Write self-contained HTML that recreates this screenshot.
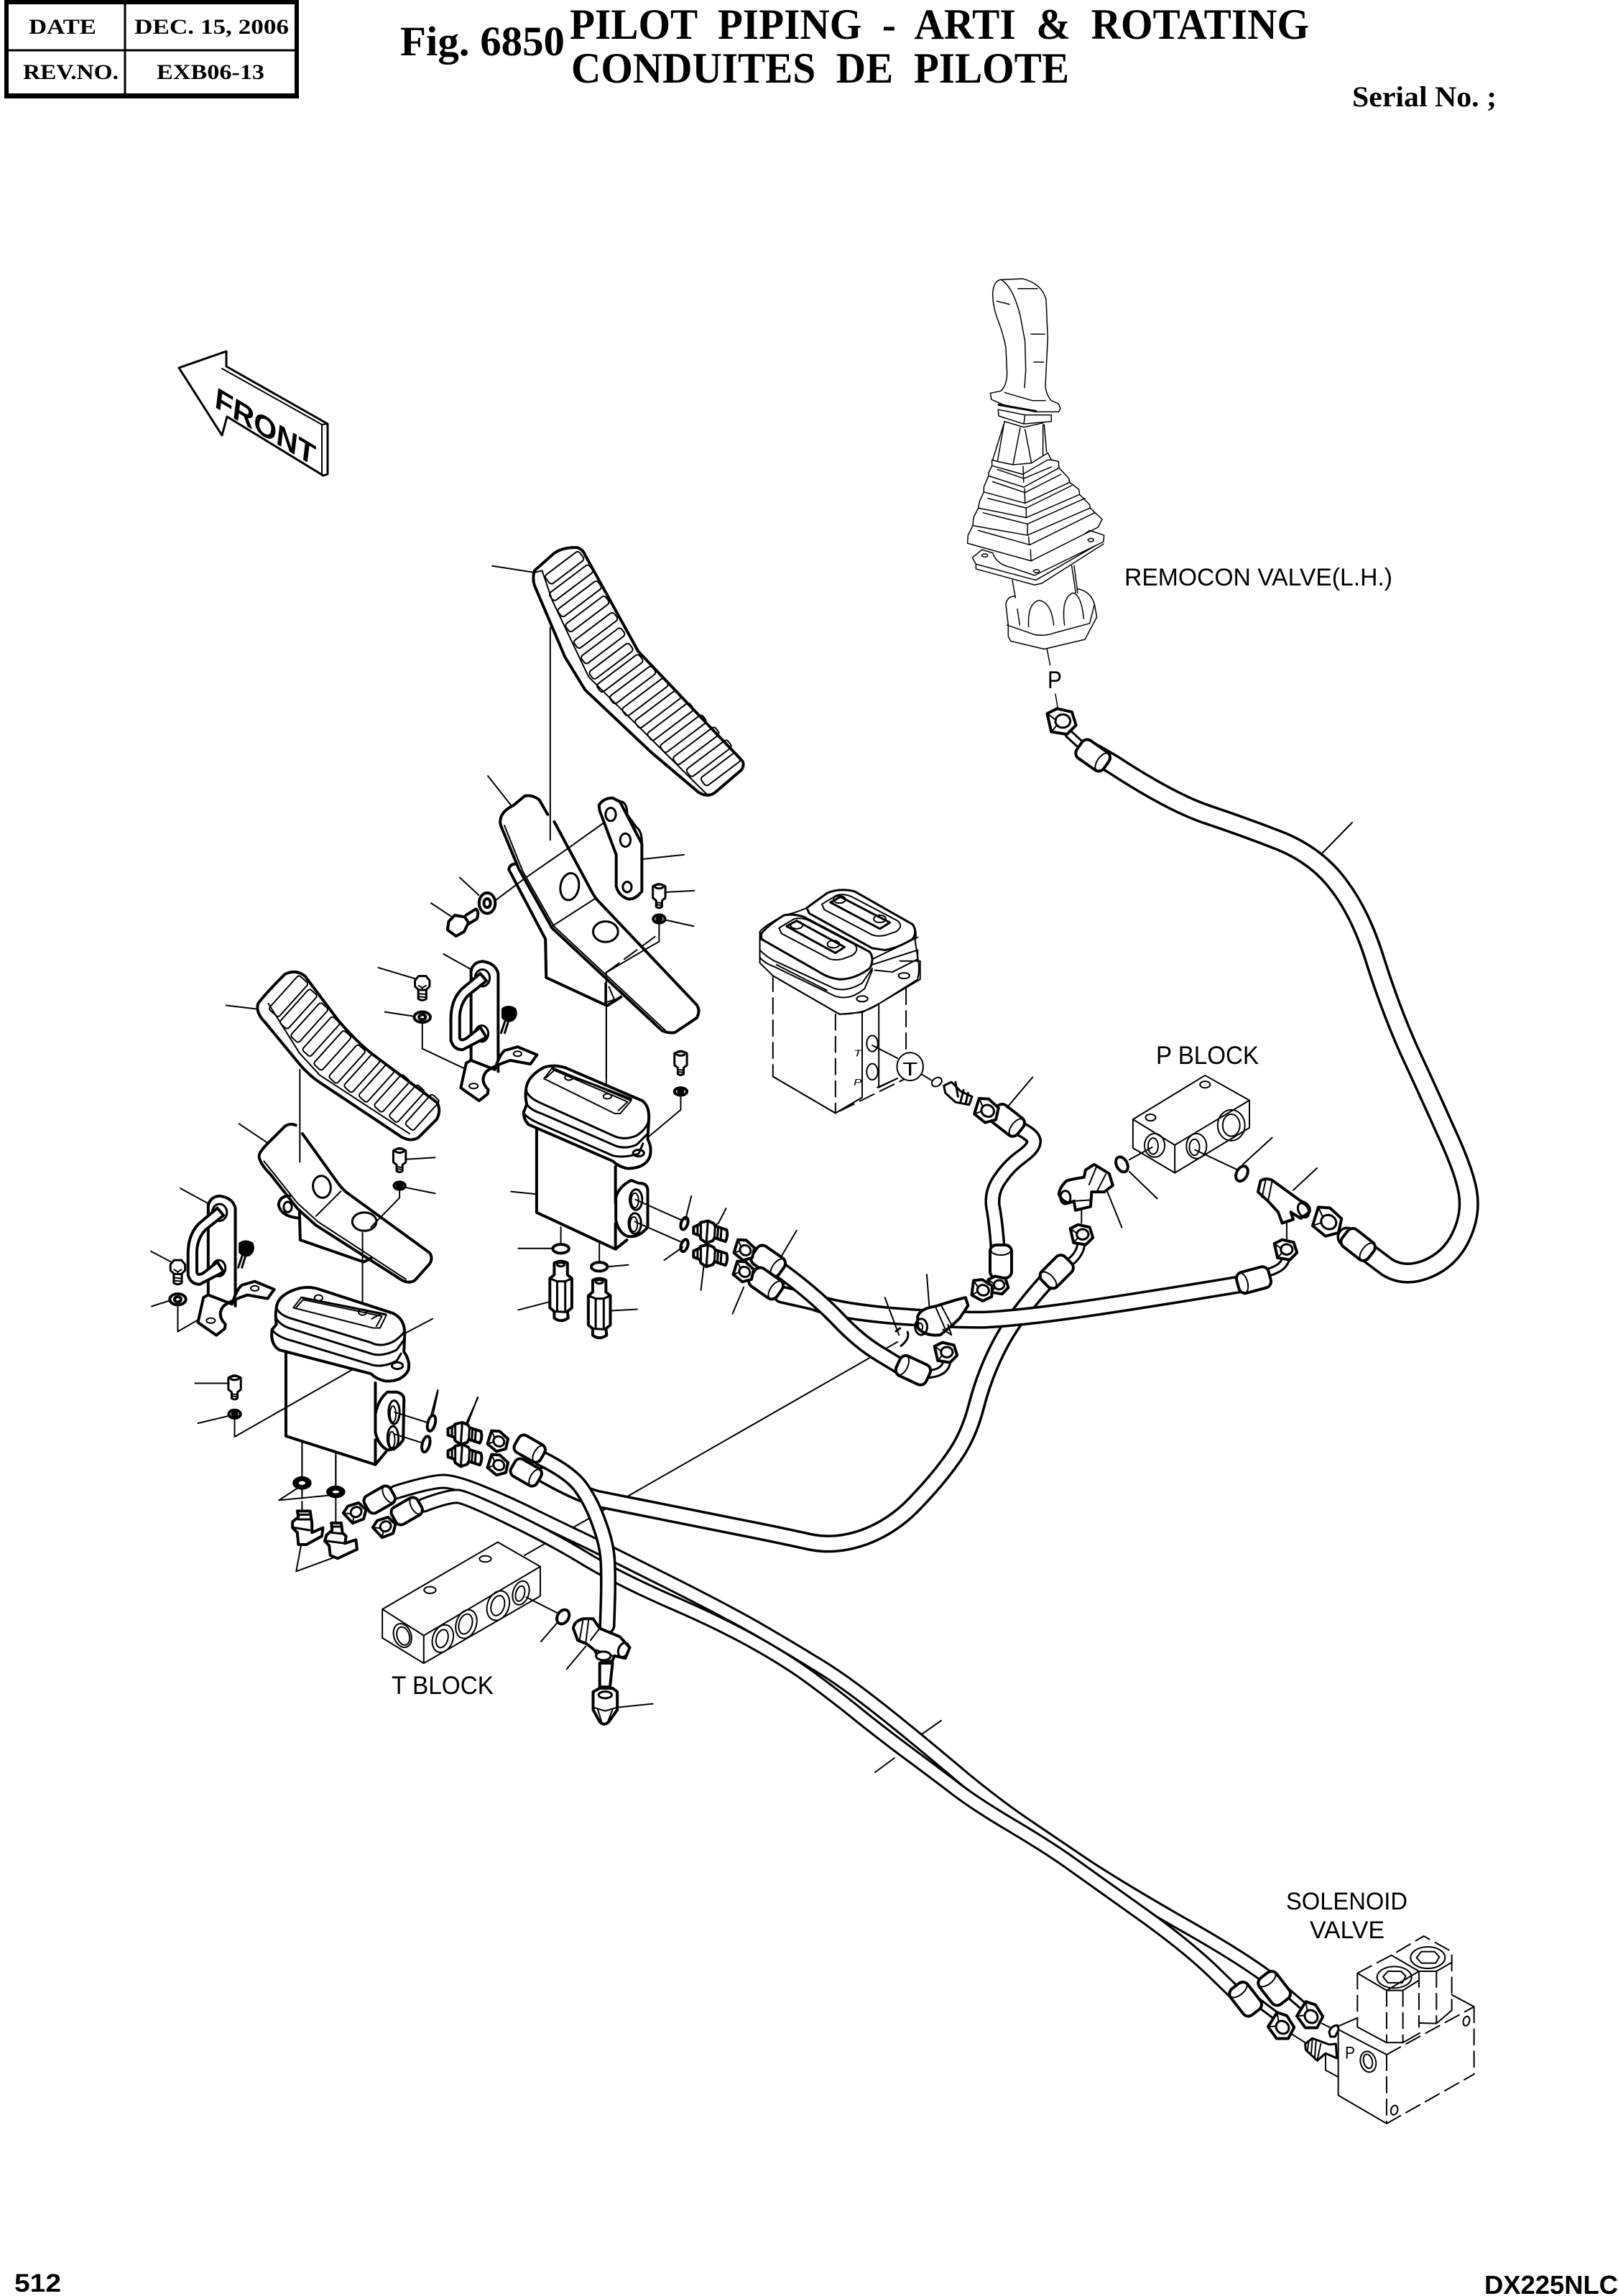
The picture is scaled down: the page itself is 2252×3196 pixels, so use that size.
<!DOCTYPE html>
<html><head><meta charset="utf-8"><style>
html,body{margin:0;padding:0;background:#fff}
svg{display:block}
svg *{vector-effect:non-scaling-stroke}
path,line,ellipse,rect,polygon,polyline,circle{fill:none;stroke:#000;stroke-width:2;stroke-linejoin:round;stroke-linecap:round}
.k{stroke-width:4}
.m{stroke-width:3}
.w{fill:#fff}
.b{fill:#000}
.d{stroke-dasharray:22 9}
.j path,.j ellipse{stroke-width:1.5}
text{fill:#000;stroke:none}
.s{font-family:"Liberation Serif",serif;font-weight:bold}
.a{font-family:"Liberation Sans",sans-serif}
</style></head><body>
<svg width="2252" height="3196" viewBox="0 0 2252 3196" xmlns="http://www.w3.org/2000/svg">
<rect x="0" y="0" width="2252" height="3196" style="fill:#fff;stroke:none"/>
<defs>
<g id="nut"><polygon class="k w" points="-17,-11 -5,-17 13,-13 18,3 7,14 -12,11"/><ellipse class="m" cx="2" cy="-2" rx="9" ry="8"/><line x1="-17" y1="-11" x2="-6" y2="-3"/><line x1="-12" y1="11" x2="-6" y2="4"/></g>
<g id="col"><rect class="k w" x="-24" y="-15" width="46" height="30" rx="9"/><ellipse cx="15" cy="0" rx="7" ry="14"/></g>
<g id="sb"><path class="m w" d="M-17,-24 Q0,-34 17,-24 L17,8 L8,15 L8,32 Q0,38 -8,32 L-8,15 L-17,8Z"/><ellipse class="m" cx="0" cy="-24" rx="12" ry="6"/><path d="M-8,20 L8,22 M-8,26 L8,28"/></g>
<g id="hb"><path class="m w" d="M-20,-18 L-10,-30 L10,-30 L20,-18 L20,-2 L10,8 L-10,8 L-20,-2Z M-11,8 L-11,32 Q0,40 11,32 L11,8"/><path d="M-10,-4 L0,2 L10,-4 M0,2 L0,8 M-11,18 L11,20 M-11,26 L11,28"/></g>
<g id="wa"><ellipse class="k w" cx="0" cy="0" rx="22" ry="15"/><ellipse class="k" cx="0" cy="0" rx="9" ry="7"/></g>
<g id="ro"><ellipse class="k w" cx="0" cy="0" rx="9" ry="17"/></g>
<g id="fit"><path class="k w" d="M-45,-15 L-30,-22 L-25,-28 L-5,-32 L10,-25 L14,-18 L45,-8 Q50,8 42,24 L12,14 L8,22 L-10,28 L-25,18 L-28,8 L-45,2 Z"/><path class="m" d="M-34,-18 L-34,6 M-25,-28 L-25,18 M-6,-30 L-10,28 M22,-14 L20,18 M31,-12 L29,21 M14,-18 L12,14"/></g>
<g id="hook">
<path class="k" d="M893,345 L893,100 Q900,76 925,75 Q960,80 967,108 L967,375"/>
<ellipse class="m" cx="924" cy="120" rx="20" ry="23"/>
<ellipse class="m" cx="922" cy="272" rx="18" ry="22"/>
<path class="k w" d="M918,108 L868,150 Q838,180 838,232 L838,290 Q845,316 870,316 L935,282 L918,255 L880,285 Q862,295 862,280 L862,225 Q864,190 885,168 L935,128Z"/>
<path class="k b" d="M980,205 Q995,195 1012,205 Q1020,222 1005,235 Q990,240 980,228Z"/>
<path class="m" d="M985,240 L975,270 M995,238 L985,270"/>
<path class="k w" d="M893,345 L880,352 L865,420 L915,455 L938,437 L940,425 Q915,400 935,375 Q955,360 1000,345 L1055,355 L1073,330 L1020,308 L985,318 Q970,330 958,370Z"/>
<ellipse cx="1020" cy="327" rx="11" ry="7"/>
<ellipse cx="900" cy="415" rx="12" ry="7"/>
</g>
<g id="cart"><path class="k w" d="M-18,-72 Q0,-82 18,-72 L18,-40 L30,-30 L30,50 L18,60 L20,78 Q0,92 -18,78 L-18,60 L-30,50 L-30,-30 L-18,-40Z"/><path class="m" d="M-30,-30 L-10,-22 L12,-22 L30,-30 M-10,-22 L-10,58 M12,-22 L12,58 M-18,60 L18,62"/><ellipse class="m" cx="0" cy="-68" rx="10" ry="5"/></g>
</defs>

<!-- Header -->
<rect x="9" y="3" width="404" height="131" style="stroke-width:6;fill:#fff"/>
<rect x="6" y="0" width="410" height="6" class="b" style="stroke:none"/>
<rect x="6" y="130" width="410" height="7" class="b" style="stroke:none"/>
<line x1="8" y1="70" x2="412" y2="70" class="m"/>
<line x1="174" y1="5" x2="174" y2="132" class="m"/>
<text class="s" x="40" y="47" font-size="30" textLength="94" lengthAdjust="spacingAndGlyphs">DATE</text>
<text class="s" x="187" y="47" font-size="30" textLength="215" lengthAdjust="spacingAndGlyphs">DEC. 15, 2006</text>
<text class="s" x="32" y="110" font-size="30" textLength="133" lengthAdjust="spacingAndGlyphs">REV.NO.</text>
<text class="s" x="218" y="110" font-size="30" textLength="150" lengthAdjust="spacingAndGlyphs">EXB06-13</text>
<text class="s" x="557" y="77" font-size="58" textLength="229" lengthAdjust="spacingAndGlyphs">Fig. 6850</text>
<text class="s" x="793" y="54" font-size="60" textLength="1029" lengthAdjust="spacingAndGlyphs" xml:space="preserve">PILOT  PIPING  -  ARTI  &amp;  ROTATING</text>
<text class="s" x="795" y="115" font-size="60" textLength="693" lengthAdjust="spacingAndGlyphs" xml:space="preserve">CONDUITES  DE  PILOTE</text>
<text class="s" x="1882" y="148" font-size="40" textLength="201" lengthAdjust="spacingAndGlyphs">Serial No. ;</text>

<!-- Footer -->
<text class="a" x="20" y="3190" font-size="35" font-weight="bold" textLength="65" lengthAdjust="spacingAndGlyphs">512</text>
<text class="a" x="2066" y="3193" font-size="36" font-weight="bold" textLength="186" lengthAdjust="spacingAndGlyphs">DX225NLC</text>

<!-- FRONT arrow -->
<path class="m" d="M249,512 L315,489 L315,510 L456,590 L456,660 L450,662 L316,580 L309,606Z"/>
<path d="M309,513 L448,591 L448,662 M448,591 L456,590"/>
<text class="a" font-size="40" font-weight="bold" transform="matrix(.87,.52,-.12,1,298,566)" textLength="160" lengthAdjust="spacingAndGlyphs">FRONT</text>

<!-- Labels -->
<text class="a" x="1565" y="815" font-size="34" textLength="373" lengthAdjust="spacingAndGlyphs">REMOCON VALVE(L.H.)</text>
<text class="a" x="1458" y="958" font-size="34" textLength="20" lengthAdjust="spacingAndGlyphs">P</text>
<text class="a" x="1609" y="1481" font-size="35" textLength="143" lengthAdjust="spacingAndGlyphs">P BLOCK</text>
<text class="a" x="545" y="2358" font-size="35" textLength="142" lengthAdjust="spacingAndGlyphs">T BLOCK</text>
<text class="a" x="1790" y="2658" font-size="34" textLength="169" lengthAdjust="spacingAndGlyphs">SOLENOID</text>
<text class="a" x="1823" y="2698" font-size="34" textLength="104" lengthAdjust="spacingAndGlyphs">VALVE</text>

<!-- Joystick (crop coordinates sx=1/3, sy=1/2.24) -->
<g class="j" transform="translate(1250,350) scale(.3333,.4464)">
<path d="M395,130 Q400,90 430,88 L520,85 Q600,100 618,150 L625,270 L615,420 Q620,450 640,465 L670,475 L678,490 L670,500 L570,500 L440,478 L390,462 L385,442 L430,435 Q455,415 455,380 L450,300 Q440,260 420,220 Q395,175 395,130Z"/>
<path d="M430,88 Q480,110 510,200 L530,280 L533,370 L528,425 M500,116 L582,116 M412,155 L465,165 M555,258 L612,258 M568,345 L608,345 M445,440 L560,465 L615,465"/>
<path style="stroke-width:3" d="M420,478 L575,498"/>
<path d="M418,493 L530,510 L640,510 L640,530 L525,538 L420,513Z M530,510 L525,538"/>
<path d="M445,530 L395,650 M443,535 L415,655 M443,530 L525,548 L605,535 M510,550 L480,665 M530,555 L557,660 M605,540 L605,635 M610,540 L620,625"/>
<path d="M392,650 L392,668 L520,695 L625,650 L640,650 L625,628 L557,660 L480,665 L415,655Z"/>
<path d="M392,668 L378,690 L378,700 L525,735 L672,675 L670,655 L640,650 M415,680 L525,708 L640,672"/>
<path d="M378,700 L358,735 L358,750 L530,785 L716,720 L713,708 L672,675 M395,718 L530,752 L680,695"/>
<path d="M358,750 L340,780 L335,800 L535,830 L758,758 L755,742 L716,720 M375,770 L535,800 L725,730"/>
<path d="M335,800 L315,830 L312,855 L540,885 L802,800 L800,790 L758,758 M355,815 L540,850 L780,770"/>
<path d="M312,855 L292,885 L290,910 L555,965 L835,860 L852,835 L802,800 M335,870 L550,915 L820,815"/>
<path d="M522,670 L525,735 M528,740 L530,785 M535,800 L535,830 M540,850 L540,885 M545,890 L548,915 M553,930 L555,965" class="d"/>
<path d="M310,955 L350,930 L395,940 M395,940 Q410,975 470,985 L570,1010 L858,905 L860,885 L800,870 L780,880 M310,955 L325,975 L325,990 L570,1040 L600,1035 L858,912 M325,975 L575,1025 L830,915"/>
<ellipse cx="362" cy="948" rx="12" ry="5"/><ellipse cx="805" cy="900" rx="12" ry="5"/><ellipse cx="578" cy="997" rx="12" ry="5"/>
<path d="M477,1025 L490,1080 M725,980 L742,1065 M735,980 L750,1065"/>
<path d="M490,1075 Q455,1075 450,1100 L460,1165 L460,1200 L470,1215 L610,1240 L780,1210 L830,1140 L820,1100 Q805,1060 750,1052"/>
<path d="M545,1170 Q540,1095 590,1088 Q640,1095 650,1165 M695,1165 Q680,1080 730,1065 Q765,1070 775,1145 M455,1165 L570,1195 Q620,1200 650,1190 L800,1160 L820,1100 M498,1115 L508,1165"/>
<path d="M622,1240 L635,1290 M657,1380 L668,1430"/>
</g>

<!-- Solid leader lines in real coords -->
<g>
<path d="M1838,1190 L1882,1145"/>
<path d="M1283,2414 L1310,2395 M1245,2447 L1218,2467"/>
<path d="M730,2165 L1249,1868" />
</g>

<!-- Hoses: black under white -->
<g style="fill:none">
<!-- A: remocon -->
<path style="fill:none;stroke:#000;stroke-width:29" d="M1525,1050 L1549,1064 Q1630,1117 1681,1134 Q1732,1151 1783,1171 Q1834,1192 1864,1233 Q1895,1274 1915,1340 Q1936,1406 1961,1462 Q1987,1518 2012,1574 Q2038,1630 2043,1660 Q2048,1691 2033,1722 Q2018,1753 1987,1766 Q1956,1779 1931,1764 L1875,1722"/>
<path style="fill:none;stroke:#fff;stroke-width:22" d="M1525,1050 L1549,1064 Q1630,1117 1681,1134 Q1732,1151 1783,1171 Q1834,1192 1864,1233 Q1895,1274 1915,1340 Q1936,1406 1961,1462 Q1987,1518 2012,1574 Q2038,1630 2043,1660 Q2048,1691 2033,1722 Q2018,1753 1987,1766 Q1956,1779 1931,1764 L1875,1722"/>
<!-- C -->
<path style="fill:none;stroke:#000;stroke-width:25" d="M758,2053 Q810,2082 835,2087 Q860,2092 930,2106 Q1000,2120 1045,2129 Q1090,2138 1126,2146 Q1162,2154 1202,2140 Q1243,2125 1274,2092 Q1305,2060 1326,2030 Q1348,2000 1359,1957 Q1370,1914 1390,1875 Q1410,1835 1455,1785"/>
<path style="fill:none;stroke:#fff;stroke-width:18" d="M758,2053 Q810,2082 835,2087 Q860,2092 930,2106 Q1000,2120 1045,2129 Q1090,2138 1126,2146 Q1162,2154 1202,2140 Q1243,2125 1274,2092 Q1305,2060 1326,2030 Q1348,2000 1359,1957 Q1370,1914 1390,1875 Q1410,1835 1455,1785"/>
<!-- B -->
<path style="fill:none;stroke:#000;stroke-width:25" d="M1730,1787 Q1561,1815 1487,1825 Q1414,1835 1372,1837 Q1330,1838 1248,1832 Q1165,1825 1132,1812 L1088,1802"/>
<path style="fill:none;stroke:#fff;stroke-width:18" d="M1730,1787 Q1561,1815 1487,1825 Q1414,1835 1372,1837 Q1330,1838 1248,1832 Q1165,1825 1132,1812 L1088,1802"/>
<!-- S -->
<path style="fill:none;stroke:#000;stroke-width:24" d="M1088,1769 Q1133,1802 1165,1835 Q1196,1868 1225,1885 L1253,1902"/>
<path style="fill:none;stroke:#fff;stroke-width:17" d="M1088,1769 Q1133,1802 1165,1835 Q1196,1868 1225,1885 L1253,1902"/>
<!-- G -->
<path style="fill:none;stroke:#000;stroke-width:22" d="M1389,1741 Q1386,1700 1382,1680 Q1379,1659 1392,1641 Q1404,1623 1422,1610 Q1439,1598 1439,1589 Q1439,1580 1417,1570"/>
<path style="fill:none;stroke:#fff;stroke-width:15" d="M1389,1741 Q1386,1700 1382,1680 Q1379,1659 1392,1641 Q1404,1623 1422,1610 Q1439,1598 1439,1589 Q1439,1580 1417,1570"/>
<!-- E -->
<path style="fill:none;stroke:#000;stroke-width:21" d="M551,2077 Q600,2062 618,2062 Q636,2063 672,2078 Q707,2092 745,2111 Q784,2130 822,2148 Q860,2167 930,2202 Q1000,2237 1050,2265 Q1100,2294 1129,2312 Q1158,2329 1189,2352 Q1220,2375 1258,2406 Q1296,2437 1341,2475 Q1386,2512 1424,2538 Q1462,2564 1511,2597 Q1560,2629 1640,2675 Q1720,2720 1761,2750"/>
<path style="fill:none;stroke:#fff;stroke-width:15" d="M551,2077 Q600,2062 618,2062 Q636,2063 672,2078 Q707,2092 745,2111 Q784,2130 822,2148 Q860,2167 930,2202 Q1000,2237 1050,2265 Q1100,2294 1129,2312 Q1158,2329 1189,2352 Q1220,2375 1258,2406 Q1296,2437 1341,2475 Q1386,2512 1424,2538 Q1462,2564 1511,2597 Q1560,2629 1640,2675 Q1720,2720 1761,2750"/>
<!-- F -->
<path style="fill:none;stroke:#000;stroke-width:21" d="M590,2095 Q625,2082 638,2083 Q651,2085 711,2114 Q771,2143 815,2170 Q860,2197 930,2228 Q1000,2258 1050,2286 Q1100,2314 1133,2339 Q1167,2364 1200,2391 Q1234,2418 1265,2441 Q1296,2464 1325,2486 Q1354,2509 1408,2541 Q1462,2573 1495,2597 Q1529,2621 1589,2664 Q1649,2707 1685,2741 L1720,2775"/>
<path style="fill:none;stroke:#fff;stroke-width:15" d="M590,2095 Q625,2082 638,2083 Q651,2085 711,2114 Q771,2143 815,2170 Q860,2197 930,2228 Q1000,2258 1050,2286 Q1100,2314 1133,2339 Q1167,2364 1200,2391 Q1234,2418 1265,2441 Q1296,2464 1325,2486 Q1354,2509 1408,2541 Q1462,2573 1495,2597 Q1529,2621 1589,2664 Q1649,2707 1685,2741 L1720,2775"/>
<!-- D -->
<path style="fill:none;stroke:#000;stroke-width:23" d="M753,2030 Q794,2050 809,2071 Q824,2092 834,2121 Q845,2150 846,2175 Q847,2200 846,2232 L845,2263"/>
<path style="fill:none;stroke:#fff;stroke-width:16" d="M753,2030 Q794,2050 809,2071 Q824,2092 834,2121 Q845,2150 846,2175 Q847,2200 846,2232 L845,2263"/>
</g>

<!-- Elbows -->
<path style="fill:none;stroke:#000;stroke-width:13" d="M1488,1022 L1510,1042"/><path style="fill:none;stroke:#fff;stroke-width:7" d="M1488,1022 L1510,1042"/>
<path style="fill:none;stroke:#000;stroke-width:13" d="M1762,1772 Q1790,1765 1790,1748"/><path style="fill:none;stroke:#fff;stroke-width:7" d="M1762,1772 Q1790,1765 1790,1748"/>
<path style="fill:none;stroke:#000;stroke-width:13" d="M1488,1758 Q1505,1745 1505,1728"/><path style="fill:none;stroke:#fff;stroke-width:7" d="M1488,1758 Q1505,1745 1505,1728"/>
<path style="fill:none;stroke:#000;stroke-width:13" d="M1288,1913 Q1318,1912 1318,1892"/><path style="fill:none;stroke:#fff;stroke-width:7" d="M1288,1913 Q1318,1912 1318,1892"/>
<path style="fill:none;stroke:#000;stroke-width:13" d="M1748,2785 L1788,2815 M1788,2770 L1825,2802"/><path style="fill:none;stroke:#fff;stroke-width:7" d="M1748,2785 L1788,2815 M1788,2770 L1825,2802"/>

<!-- Collars -->
<use href="#col" transform="translate(1522,1052) rotate(35)"/>
<use href="#nut" transform="translate(1477,1006) scale(1.15)"/>
<use href="#col" transform="translate(1891,1733) rotate(38)"/>
<use href="#nut" transform="translate(1846,1702) rotate(30) scale(1.2)"/>
<use href="#col" transform="translate(1403,1560) rotate(38)"/>
<use href="#nut" transform="translate(1372,1547) rotate(30) scale(1)"/>
<use href="#col" transform="translate(1393,1755) rotate(-90)"/>
<use href="#nut" transform="translate(1389,1790) scale(.8)"/>
<use href="#nut" transform="translate(1366,1797) rotate(20) scale(.9)"/>
<use href="#col" transform="translate(1744,1782) rotate(165)"/>
<use href="#nut" transform="translate(1789,1741) scale(.9)"/>
<use href="#col" transform="translate(1470,1771) rotate(135)"/>
<use href="#nut" transform="translate(1505,1720) scale(.9)"/>
<use href="#col" transform="translate(1270,1907) rotate(205)"/>
<use href="#nut" transform="translate(1316,1884) scale(.9)"/>
<use href="#col" transform="translate(1070,1756) rotate(35)"/>
<use href="#nut" transform="translate(1035,1741) rotate(30) scale(.85)"/>
<use href="#col" transform="translate(1067,1787) rotate(35)"/>
<use href="#nut" transform="translate(1034,1771) rotate(30) scale(.85)"/>
<use href="#col" transform="translate(738,2017) rotate(30) scale(.9)"/>
<use href="#nut" transform="translate(692,2007) rotate(30) scale(.85)"/>
<use href="#col" transform="translate(733,2050) rotate(30) scale(.9)"/>
<use href="#nut" transform="translate(692,2040) rotate(30) scale(.85)"/>
<use href="#col" transform="translate(529,2087) rotate(-30) scale(.9)"/>
<use href="#nut" transform="translate(495,2107) rotate(-30) scale(.85)"/>
<use href="#col" transform="translate(567,2103) rotate(-30) scale(.9)"/>
<use href="#nut" transform="translate(536,2127) rotate(-30) scale(.85)"/>
<use href="#col" transform="translate(1773,2767) rotate(232)"/>
<use href="#col" transform="translate(1733,2782) rotate(232)"/>
<use href="#nut" transform="translate(1822,2807) rotate(45) scale(1.05)"/>
<use href="#nut" transform="translate(1782,2822) rotate(45) scale(1.05)"/>

<!-- Group A: upper pedal (scale .5102) -->
<g transform="translate(600,700) scale(.5102)">
<path d="M167,172 L282,190 M155,745 L218,825 M325,340 L325,920 M578,972 L690,960 M642,1062 L718,1058 M640,1138 L716,1155 M78,1022 L130,1070 M0,1092 L65,1135"/>
<path d="M475,870 L370,945 M370,945 L255,1025 M255,1025 L175,1085"/>
<path d="M622,1150 L622,1197 L590,1215 M590,1215 L480,1280 M478,1280 L478,1568"/>
<path class="k" d="M282,185 L335,138 Q360,120 400,122 Q415,128 420,142 L565,405 L850,705 Q855,720 845,730 L775,790 Q755,805 730,790 L600,680 L420,510 L365,420 L282,225 Q276,205 282,185Z"/>
<path d="M303,185 L330,265 L430,475 L755,798 M282,190 L303,185"/>
<g transform="translate(364,177) rotate(-37)"><rect x="-58" y="-15" width="116" height="30" rx="8"/></g>
<g transform="translate(382,218) rotate(-37)"><rect x="-68" y="-13" width="136" height="26" rx="8"/></g>
<g transform="translate(405,262) rotate(-37)"><rect x="-68" y="-13" width="136" height="26" rx="8"/></g>
<g transform="translate(426,303) rotate(-37)"><rect x="-68" y="-13" width="136" height="26" rx="8"/></g>
<g transform="translate(449,348) rotate(-37)"><rect x="-68" y="-13" width="136" height="26" rx="8"/></g>
<g transform="translate(469,390) rotate(-37)"><rect x="-68" y="-13" width="136" height="26" rx="8"/></g>
<g transform="translate(491,432) rotate(-37)"><rect x="-68" y="-13" width="136" height="26" rx="8"/></g>
<g transform="translate(515,465) rotate(-37)"><rect x="-72" y="-13" width="144" height="26" rx="8"/></g>
<g transform="translate(550,497) rotate(-37)"><rect x="-72" y="-13" width="144" height="26" rx="8"/></g>
<g transform="translate(584,530) rotate(-37)"><rect x="-72" y="-13" width="144" height="26" rx="8"/></g>
<g transform="translate(619,563) rotate(-37)"><rect x="-72" y="-13" width="144" height="26" rx="8"/></g>
<g transform="translate(653,597) rotate(-37)"><rect x="-72" y="-13" width="144" height="26" rx="8"/></g>
<g transform="translate(688,630) rotate(-37)"><rect x="-72" y="-13" width="144" height="26" rx="8"/></g>
<g transform="translate(723,663) rotate(-37)"><rect x="-72" y="-13" width="144" height="26" rx="8"/></g>
<g transform="translate(758,697) rotate(-37)"><rect x="-70" y="-13" width="140" height="26" rx="8"/></g>
<g transform="translate(790,727) rotate(-37)"><rect x="-60" y="-14" width="120" height="28" rx="8"/></g>
<path class="k" d="M190,860 Q195,840 225,825 L255,800 Q275,795 295,810 L318,850 M336,870 L430,1045 Q445,1075 455,1085 L725,1370 Q735,1385 725,1405 L665,1445 Q650,1448 630,1440 L330,1160 L240,1000 L190,880 Q187,870 190,860"/>
<path d="M200,880 L250,1005 L335,1155 L640,1440 M330,1155 L447,1080"/>
<ellipse class="m" cx="378" cy="1047" rx="25" ry="37" transform="rotate(10 378 1047)"/>
<ellipse class="m" cx="476" cy="1170" rx="34" ry="28"/>
<path class="k" d="M232,985 Q215,985 212,1000 L312,1190 L314,1295 L480,1372 L518,1348"/>
<path d="M475,1310 L475,1365 M485,1320 L500,1355 L480,1362"/>
<path class="k w" d="M458,825 Q470,805 495,805 L515,815 L575,930 L575,1060 Q555,1085 535,1080 Q510,1070 505,1045 L505,960 L460,840Z"/>
<path class="m" d="M520,815 Q535,820 535,850 L560,885 Q575,895 575,925"/>
<ellipse class="m" cx="490" cy="850" rx="14" ry="18"/><ellipse class="m" cx="530" cy="920" rx="14" ry="18"/><ellipse class="m" cx="535" cy="1048" rx="12" ry="14"/>
<use href="#sb" transform="translate(622,1070)"/>
<ellipse class="k" cx="622" cy="1135" rx="16" ry="11"/><ellipse class="k" cx="622" cy="1135" rx="6" ry="4"/>
<ellipse class="k w" cx="153" cy="1092" rx="22" ry="28"/><ellipse class="k" cx="153" cy="1092" rx="9" ry="12"/>
<path class="k w" d="M48,1142 L65,1125 L92,1130 L102,1145 L90,1170 L68,1182 L45,1165Z M95,1125 L122,1108 Q132,1115 125,1135 L100,1150"/>
</g>

<!-- Group B: left pedal, valves (scale .5102) -->
<g transform="translate(200,1300) scale(.5102)">
<path d="M225,195 L310,205 M260,518 L335,568 M426,370 L426,622 M640,92 L740,122 M658,213 L738,225 M818,55 L890,95 M100,694 L175,735 M20,866 L75,895 M22,1016 L72,1000 M715,615 L795,610 M715,692 L795,708 M1002,703 L1072,710"/>
<path d="M760,243 L760,313 L902,380 L902,410 M93,1015 L93,1085 L205,1020 L205,1050"/>
<path d="M698,700 L698,720 L620,800 M597,1020 L597,880 M597,880 L597,815"/>
<path d="M1262,105 L1405,0" class="d"/>
<path d="M1262,105 L1262,430"/>
<path class="k w" d="M312,190 Q330,165 385,110 Q415,95 440,115 L530,235 Q590,305 640,340 L800,460 Q812,480 800,505 L750,555 Q730,568 705,555 L480,405 Q450,385 425,355 L330,240 Q305,215 312,190Z"/>
<path d="M340,190 L425,325 L480,385 L725,545"/>
<g transform="translate(395,170) rotate(-48)"><rect x="-62" y="-18" width="124" height="36" rx="7"/></g>
<g transform="translate(422,205) rotate(-48)"><rect x="-62" y="-15" width="124" height="30" rx="7"/></g>
<g transform="translate(452,242) rotate(-48)"><rect x="-62" y="-15" width="124" height="30" rx="7"/></g>
<g transform="translate(484,280) rotate(-48)"><rect x="-62" y="-15" width="124" height="30" rx="7"/></g>
<g transform="translate(515,318) rotate(-48)"><rect x="-62" y="-15" width="124" height="30" rx="7"/></g>
<g transform="translate(555,355) rotate(-48)"><rect x="-60" y="-15" width="120" height="30" rx="7"/></g>
<g transform="translate(596,380) rotate(-48)"><rect x="-60" y="-15" width="120" height="30" rx="7"/></g>
<g transform="translate(635,408) rotate(-48)"><rect x="-58" y="-15" width="116" height="30" rx="7"/></g>
<g transform="translate(677,435) rotate(-48)"><rect x="-58" y="-15" width="116" height="30" rx="7"/></g>
<g transform="translate(718,463) rotate(-48)"><rect x="-58" y="-15" width="116" height="30" rx="7"/></g>
<g transform="translate(760,487) rotate(-48)"><rect x="-55" y="-15" width="110" height="30" rx="7"/></g>
<path class="k" d="M315,605 Q315,595 340,570 L385,525 Q400,515 415,522 M433,545 L530,680 Q545,700 560,710 L780,870 Q790,885 780,900 L740,945 Q725,955 705,945 L470,795 L420,750 L345,655 Q320,630 315,610"/>
<path d="M328,620 L420,735 L475,785 L715,942 M470,770 L538,702"/>
<ellipse class="m" cx="486" cy="690" rx="24" ry="30" transform="rotate(-10 486 690)"/>
<ellipse class="m" cx="602" cy="785" rx="33" ry="25"/>
<path class="k" d="M425,760 L427,835 L600,895 L620,885"/>
<path class="k" d="M398,715 Q370,715 368,740 Q375,770 420,775"/>
<ellipse class="m" cx="393" cy="745" rx="11" ry="14"/>
<use href="#hook"/>
<use href="#hook" transform="translate(-717,640)"/>
<use href="#hb" transform="translate(760,145)"/>
<use href="#wa" transform="translate(760,227) scale(1,.95)"/>
<use href="#hb" transform="translate(93,920)"/>
<use href="#wa" transform="translate(93,997)"/>
<use href="#sb" transform="translate(698,615)"/>
<ellipse class="k" cx="698" cy="687" rx="15" ry="10"/><ellipse class="k" cx="698" cy="687" rx="6" ry="3"/>
<use href="#sb" transform="translate(1465,350)"/>
<ellipse class="k" cx="1465" cy="430" rx="17" ry="10"/><ellipse class="k" cx="1465" cy="430" rx="6" ry="3"/>
<use href="#sb" transform="translate(248,1235)"/>
<ellipse class="k" cx="248" cy="1310" rx="16" ry="11"/><ellipse class="k" cx="248" cy="1310" rx="6" ry="4"/>
<path d="M140,1226 L230,1226 M148,1335 L232,1315"/>
<path d="M1465,445 L1465,480 L1360,568 M248,1325 L248,1372 L690,1120 L690,1175 M716,1088 L788,1050"/>

<!-- upper valve -->
<path class="k" d="M1072,530 L1072,760 L1287,860 L1318,835 M1287,635 L1287,735 M1287,790 L1287,860"/>
<path d="M1138,800 L1138,845 M1243,845 L1243,895"/>
<path class="k w" d="M1043,425 Q1045,390 1090,365 Q1115,355 1150,365 L1360,455 Q1380,470 1378,505 L1375,560 Q1388,585 1380,610 Q1365,640 1320,640 Q1295,635 1280,620 L1050,520 Q1035,505 1037,485 L1045,465Q1040,445 1043,425Z"/>
<path class="m" d="M1043,425 Q1047,445 1080,460 L1280,550 Q1310,565 1345,550 Q1375,530 1378,505 M1045,465 Q1055,480 1085,490 L1280,575 Q1310,590 1345,575 L1375,545 M1037,490 Q1050,505 1085,520 L1280,605 Q1310,612 1350,600 L1362,572"/>
<path d="M1092,395 L1115,365 L1330,455 L1300,490 L1285,490Z M1098,392 L1120,372 L1320,458 L1295,482"/>
<path class="m" d="M1115,368 L1330,450"/>
<ellipse cx="1160" cy="392" rx="11" ry="7"/><ellipse cx="1265" cy="443" rx="11" ry="7"/><ellipse class="m" cx="1350" cy="598" rx="15" ry="9"/>
<path class="k w" d="M1350,680 Q1375,680 1375,700 L1375,800 Q1350,830 1320,825 Q1295,815 1288,780 L1288,720 Q1295,690 1330,672Z"/>
<ellipse class="m" cx="1343" cy="725" rx="17" ry="28"/><ellipse cx="1340" cy="727" rx="10" ry="20"/>
<ellipse class="m" cx="1340" cy="790" rx="17" ry="28"/><ellipse cx="1337" cy="792" rx="10" ry="20"/>
<path d="M1342,725 L1465,780 M1340,785 L1465,840"/>
<use href="#ro" transform="translate(1475,790) rotate(18)"/>
<use href="#ro" transform="translate(1475,850) rotate(18)"/>
<path d="M1494,715 L1478,780 M1420,890 L1470,855 M1022,858 L1115,858 M1322,903 L1265,908 M1022,1026 L1110,1003 M1346,1024 L1275,1028 M1520,972 L1528,905 M1565,790 L1545,825"/>
<ellipse class="k" cx="1138" cy="859" rx="22" ry="12"/><ellipse class="k" cx="1243" cy="908" rx="22" ry="12"/>
<use href="#cart" transform="translate(1138,970)"/>
<use href="#cart" transform="translate(1243,1017)"/>
<use href="#fit" transform="translate(1545,815)"/>
<use href="#fit" transform="translate(1545,880)"/>

<!-- lower valve -->
<path class="k" d="M388,1140 L388,1370 L632,1448 L665,1408 M632,1225 L632,1320 M632,1380 L632,1448"/>
<path d="M432,1385 L432,1485 M524,1415 L524,1510 M432,1515 L432,1540 M432,1560 L432,1568"/>
<path class="k w" d="M362,1020 Q365,985 420,968 Q450,960 480,970 L680,1035 Q712,1050 712,1090 L710,1140 Q728,1165 722,1190 Q705,1222 660,1220 Q635,1215 620,1200 L370,1135 Q345,1120 350,1080 L362,1065 Q358,1040 362,1020Z"/>
<path class="m" d="M362,1020 Q370,1040 405,1050 L620,1115 Q650,1130 685,1110 Q712,1090 712,1080 M362,1050 Q375,1070 405,1078 L620,1145 Q650,1155 690,1135 L712,1105 M350,1080 Q365,1100 405,1110 L620,1175 Q650,1185 690,1165 L702,1145"/>
<path d="M408,1020 L430,992 L662,1040 L645,1075 L625,1075Z M415,1020 L435,998 L650,1043 L635,1070 M622,1050 L650,1035"/>
<path class="m" d="M430,992 L660,1038"/>
<ellipse cx="477" cy="993" rx="11" ry="8"/><ellipse cx="597" cy="1032" rx="11" ry="8"/><ellipse class="m" cx="692" cy="1178" rx="15" ry="9"/>
<path class="k w" d="M690,1250 Q710,1255 710,1270 L708,1380 Q690,1408 665,1408 Q640,1395 632,1360 L632,1310 Q640,1270 665,1250Z"/>
<ellipse class="m" cx="683" cy="1305" rx="15" ry="32"/><ellipse cx="680" cy="1310" rx="8" ry="22"/>
<ellipse class="m" cx="680" cy="1375" rx="15" ry="32"/><ellipse cx="677" cy="1380" rx="8" ry="22"/>
<path d="M685,1305 L780,1335 M685,1365 L765,1390 M803,1246 L788,1318 M912,1265 L880,1335"/>
<ellipse class="k w" cx="785" cy="1335" rx="10" ry="22" transform="rotate(15 785 1335)"/>
<ellipse class="k w" cx="770" cy="1392" rx="10" ry="22" transform="rotate(15 770 1392)"/>
<use href="#fit" transform="translate(875,1365)"/>
<use href="#fit" transform="translate(875,1425)"/>
</g>

<!-- Double valve + P block (sx=.7018, sy=.5102) -->
<g transform="translate(1000,1200) scale(.7018,.5102)">
<path d="M108,310 L108,585 L232,685 L372,590 M232,415 L232,685 M372,345 L372,530" class="d"/>
<path d="M285,410 L285,640 M318,390 L318,615 M108,585 L232,685 L285,642 M318,615 L355,590"/>
<path class="w" d="M175,125 L215,85 Q240,70 270,80 L385,170 Q395,190 390,215 L395,260 Q400,290 395,320 L320,385 L285,410 L240,415 L108,310 L82,275 L82,190 Q90,175 130,145 Q150,140 175,125Z"/>
<path class="m" d="M85,195 Q100,170 130,145 Q150,140 170,150 L300,245 Q310,265 300,290 Q270,320 240,320 Q215,315 200,300 L85,210Z"/>
<path d="M120,180 L150,155 Q165,150 180,160 L270,225 Q280,240 265,255 L245,265 Q225,270 215,260 L125,195Z"/>
<path class="m" d="M135,175 L155,160 L250,232 L232,248 Z"/>
<ellipse cx="155" cy="172" rx="12" ry="10"/><ellipse cx="228" cy="224" rx="12" ry="10"/>
<path class="m" d="M175,125 L215,85 Q240,70 270,80 L385,170 Q395,190 385,210 Q355,235 330,240 L305,235 L180,140Z"/>
<path d="M205,115 L235,90 Q250,85 265,95 L355,160 Q368,175 352,190 L330,200 Q310,205 300,195 L210,130Z"/>
<path class="m" d="M222,110 L242,95 L340,165 L320,182Z"/>
<ellipse cx="240" cy="102" rx="12" ry="10"/><ellipse cx="320" cy="155" rx="12" ry="10"/>
<path d="M82,205 L82,260 Q90,275 110,285 L230,365 Q260,380 290,345 L305,295 M82,240 Q100,265 120,275 L230,345 Q255,355 285,330 L305,290 M115,280 L215,350"/>
<path d="M305,265 L395,205 M305,280 L395,240 L395,265 L345,300 L310,295 M360,270 L400,270 L400,320 L320,385 Q290,415 240,415 L120,320"/>
<ellipse cx="285" cy="373" rx="11" ry="8"/><ellipse cx="368" cy="310" rx="11" ry="8"/>
<ellipse cx="305" cy="495" rx="11" ry="22"/><ellipse cx="305" cy="572" rx="11" ry="22"/>
<text class="a" x="268" y="530" font-size="26" font-style="italic" textLength="16" lengthAdjust="spacingAndGlyphs">T</text>
<text class="a" x="268" y="610" font-size="26" font-style="italic" textLength="16" lengthAdjust="spacingAndGlyphs">P</text>
<path d="M305,500 L355,535"/>
<ellipse class="w" cx="380" cy="558" rx="26" ry="38"/>
<text class="a" x="365" y="582" font-size="50" textLength="30" lengthAdjust="spacingAndGlyphs">T</text>
<path d="M404,580 L422,595 M315,615 L355,590"/>
<ellipse cx="433" cy="600" rx="9" ry="13" transform="rotate(25 433 600)"/>
<path class="m w" d="M447,610 L462,600 L480,625 L503,640 L497,662 L470,655 L450,630Z"/>
<path class="m" d="M470,600 L475,640 M486,622 L480,655 M495,630 L490,660"/>
<path d="M623,587 L572,670 M155,1005 L125,1075 M50,1160 L28,1232 M15,945 L0,985 M413,1125 L418,1210 M330,1188 L358,1290"/>
<!-- small T fitting -->
<path class="k w" d="M395,1240 Q400,1218 430,1212 L470,1195 L490,1188 L495,1210 L478,1245 L465,1262 L440,1290 Q410,1295 395,1270Z"/>
<ellipse class="m" cx="402" cy="1268" rx="12" ry="22"/><ellipse cx="400" cy="1268" rx="5" ry="10"/>
<path d="M430,1212 L450,1275 M440,1205 L462,1262 M445,1275 L462,1290 L455,1262"/>
<path class="m" d="M375,1282 Q380,1300 362,1320 M352,1280 L360,1272"/>
<!-- P block -->
<path d="M822,702 L965,582 L1053,650 L905,772Z M822,702 L822,780 L905,848 L905,772 M905,848 L1053,725 L1053,650"/>
<ellipse cx="857" cy="697" rx="10" ry="9"/><ellipse cx="965" cy="607" rx="10" ry="9"/>
<ellipse cx="865" cy="773" rx="20" ry="32"/><ellipse cx="862" cy="775" rx="10" ry="22"/>
<ellipse cx="948" cy="775" rx="20" ry="34"/><ellipse cx="944" cy="778" rx="10" ry="22"/>
<ellipse cx="1017" cy="718" rx="27" ry="42"/><ellipse cx="1017" cy="718" rx="17" ry="30"/>
<path d="M860,778 L815,812 M945,785 L1030,840 M815,845 L870,918 M1040,825 L1098,752 M1140,895 L1187,835 M770,895 L800,997"/>
<ellipse class="k" cx="800" cy="825" rx="11" ry="21" transform="rotate(-15 800 825)"/>
<ellipse class="k" cx="1038" cy="850" rx="11" ry="21" transform="rotate(15 1038 850)"/>
<path class="k w" d="M690,870 Q700,865 725,860 L728,840 L745,825 L775,850 L782,882 L765,900 L740,900 L738,940 L708,950 L705,925 L695,930 Q680,925 675,905 Q678,885 690,870Z"/>
<ellipse class="m" cx="688" cy="915" rx="10" ry="18"/>
<path d="M750,830 L735,880 M768,852 L752,895 M705,925 L738,922"/>
<path class="k w" d="M1075,870 Q1085,860 1098,868 L1110,880 L1155,925 Q1175,935 1172,955 L1155,972 Q1140,960 1135,955 L1140,975 L1118,985 L1110,955 L1090,925 L1070,900Z"/>
<path d="M1085,868 L1078,915 M1098,870 L1090,925"/>
<ellipse class="m" cx="1160" cy="950" rx="10" ry="20" transform="rotate(-15 1160 950)"/>
<path d="M1127,985 L1127,1028 M720,950 L720,985"/>
</g>

<!-- Lower-left tees, T block etc (sx=.5102, sy=.3333) -->
<g transform="translate(350,1900) scale(.5102,.3333)">
<path d="M508,105 L490,210 M617,135 L590,245 M138,340 L138,480 M230,365 L230,515 M138,515 L138,540 M138,570 L138,605 M230,550 L230,660"/>
<path d="M125,515 L75,565 L210,545 M135,755 L122,862 L232,800 M750,970 L840,1040 M790,1155 L835,1075 M860,1270 L912,1175 M1000,1430 L1095,1415"/>
<ellipse class="k b" cx="138" cy="493" rx="22" ry="22"/><ellipse cx="138" cy="493" rx="11" ry="11" style="fill:#fff"/>
<ellipse class="k b" cx="230" cy="530" rx="22" ry="20"/><ellipse cx="230" cy="530" rx="11" ry="9" style="fill:#fff"/>
<path class="k w" d="M125,610 L160,610 L165,660 L165,700 L195,680 L192,715 L150,750 L128,750 L125,700 L112,680 L112,655 L128,635Z"/>
<path class="m" d="M130,625 L155,625 M128,645 L160,645 M118,680 L158,690"/>
<path class="k w" d="M218,660 L245,660 L248,700 L258,715 L255,745 L285,730 L288,770 L235,808 L215,795 L212,755 L200,735 L205,710 L220,690Z"/>
<path class="m" d="M222,675 L243,675 M218,700 L250,705 M205,735 L255,745"/>
<!-- T block -->
<path d="M357,1020 L672,740 L788,842 L470,1130Z M357,1020 L357,1140 L470,1246 L470,1130 M470,1246 L788,965 L788,842"/>
<ellipse cx="638" cy="810" rx="16" ry="13"/><ellipse cx="487" cy="940" rx="16" ry="14"/>
<ellipse cx="412" cy="1130" rx="24" ry="50" transform="rotate(-8 412 1130)"/><ellipse cx="414" cy="1132" rx="17" ry="38" transform="rotate(-8 414 1132)"/>
<ellipse cx="522" cy="1143" rx="28" ry="58" transform="rotate(8 522 1143)"/><ellipse cx="520" cy="1143" rx="16" ry="38" transform="rotate(8 520 1143)"/>
<ellipse cx="586" cy="1082" rx="28" ry="60" transform="rotate(8 586 1082)"/><ellipse cx="584" cy="1082" rx="18" ry="42" transform="rotate(8 584 1082)"/>
<ellipse cx="673" cy="1005" rx="30" ry="62" transform="rotate(8 673 1005)"/><ellipse cx="672" cy="1005" rx="18" ry="42" transform="rotate(8 672 1005)"/>
<ellipse cx="735" cy="952" rx="22" ry="50" transform="rotate(8 735 952)"/><ellipse cx="733" cy="955" rx="12" ry="32" transform="rotate(8 733 955)"/>
<ellipse class="k w" cx="850" cy="1052" rx="16" ry="30" transform="rotate(12 850 1052)"/>
<!-- T fitting -->
<path class="k w" d="M878,1100 Q880,1070 905,1060 L932,1060 L950,1100 L1005,1135 L1032,1180 L1020,1225 L990,1215 L985,1235 L960,1245 L935,1190 L915,1165 L890,1150Z"/>
<path d="M905,1060 L895,1150 M920,1060 L912,1160 M950,1100 L925,1150 M940,1190 L985,1215"/>
<ellipse class="m" cx="1015" cy="1190" rx="14" ry="30" transform="rotate(10 1015 1190)"/>
<ellipse class="m w" cx="960" cy="1215" rx="20" ry="18"/>
<path class="k w" d="M950,1245 L985,1245 L978,1345 L950,1345Z"/>
<path class="k w" d="M932,1365 L950,1350 L985,1350 L998,1365 L998,1440 L975,1490 Q962,1510 950,1490 L932,1440Z"/>
<ellipse class="m" cx="965" cy="1378" rx="18" ry="14"/>
<path d="M932,1430 L965,1445 L998,1430 M945,1440 L955,1490 M985,1440 L972,1490"/>
</g>

<!-- Solenoid valve (scale 1/3) -->
<g transform="translate(1600,2600) scale(.3333)">
<path d="M720,650 L755,668 M595,695 L650,730 M780,665 L865,628"/>
<path class="d" d="M868,440 L1010,365 L1145,285 L1262,350 L1262,595 M868,440 L868,665 M990,512 L990,730 M1058,512 L1058,730 M1125,432 L1125,665 M1198,432 L1198,648 M990,780 L990,1068 M1355,580 L1355,862 M990,780 L1355,580 M990,1068 L1355,862"/>
<path d="M868,440 L990,512 L1125,432 L1010,365 M990,512 L1058,512 L1125,470 M1125,432 L1198,432 L1262,395 M868,665 L990,730 L1058,730 L1128,690 M1128,648 L1198,650 L1262,595 M1262,530 L1355,580 M788,675 L788,950 L990,1068 M788,675 L990,780"/>
<ellipse cx="1022" cy="457" rx="72" ry="45"/>
<path d="M975,455 L995,432 L1050,432 L1070,452 L1055,480 L995,480Z"/>
<ellipse cx="1162" cy="375" rx="72" ry="45"/>
<path d="M1115,375 L1135,350 L1190,350 L1210,372 L1195,398 L1135,398Z"/>
<ellipse cx="1323" cy="640" rx="13" ry="20" transform="rotate(15 1323 640)"/>
<ellipse cx="1022" cy="1012" rx="14" ry="20" transform="rotate(15 1022 1012)"/>
<text class="a" x="816" y="797" font-size="72" textLength="42" lengthAdjust="spacingAndGlyphs">P</text>
<ellipse cx="913" cy="810" rx="32" ry="44" transform="rotate(-15 913 810)"/>
<ellipse cx="912" cy="808" rx="18" ry="30" transform="rotate(-15 912 808)"/>
<path class="m w" d="M650,735 L680,712 L750,738 L778,735 L782,795 L735,775 L700,805 L652,760Z"/>
<path d="M665,725 L660,760 M680,715 L675,775 M695,725 L690,790 M715,735 L700,805 M735,775 L735,845 L785,872"/>
<path class="m w" d="M750,685 Q760,658 785,658 L790,675 L775,705 L755,705Z"/>
</g>
</svg>
</body></html>
